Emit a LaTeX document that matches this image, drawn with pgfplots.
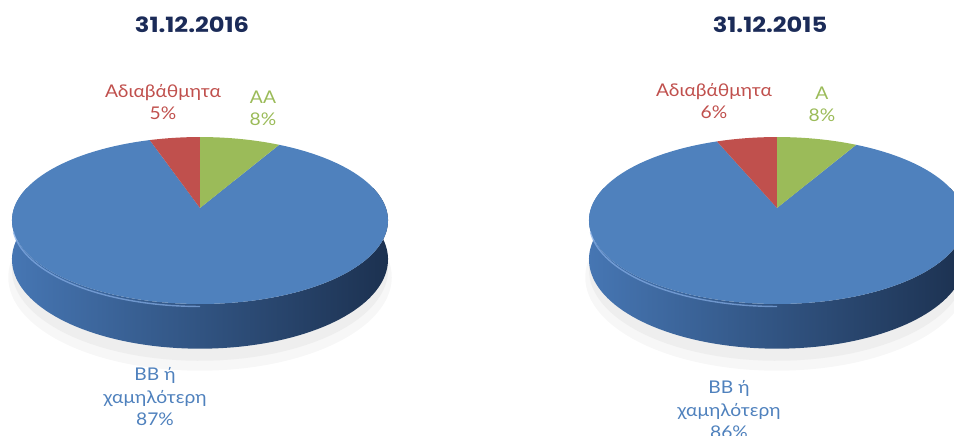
\documentclass[border=0pt]{standalone}
\usepackage{pgfplots}
\pgfplotsset{compat=1.18}
\usepackage{pgfplotstable}
\usepackage{fontspec}
\setmainfont{Lato}[FakeStretch=1.1]
\newfontfamily\titlefont{Poppins}[FakeStretch=1.15]
\definecolor{cblue}{HTML}{4F81BD}
\definecolor{cred}{HTML}{C0504D}
\definecolor{cgreen}{HTML}{9BBB59}
\definecolor{sideL}{HTML}{4676B3}
\definecolor{sideR}{HTML}{1C3150}
\definecolor{rim}{HTML}{86AEE6}
\definecolor{navy}{HTML}{1B2B58}
\definecolor{tblue}{HTML}{4F81BD}

\pgfplotstableread{
label pct
AA 8
BB 87
NR 5
}\dataA
\pgfplotstableread{
label pct
A 8
BB 86
NR 6
}\dataB

\begin{document}%
\begin{tikzpicture}
\pgfplotstablegetelem{0}{pct}\of\dataA \edef\gA{\pgfplotsretval}
\pgfplotstablegetelem{2}{pct}\of\dataA \edef\rA{\pgfplotsretval}
\pgfplotstablegetelem{0}{pct}\of\dataB \edef\gB{\pgfplotsretval}
\pgfplotstablegetelem{2}{pct}\of\dataB \edef\rB{\pgfplotsretval}
\pgfmathsetmacro{\gAs}{90-3.6*\gA}
\pgfmathsetmacro{\rAe}{90+3.6*\rA}
\pgfmathsetmacro{\bAe}{450-3.6*\gA}
\pgfmathsetmacro{\gBs}{90-3.6*\gB}
\pgfmathsetmacro{\rBe}{90+3.6*\rB}
\pgfmathsetmacro{\bBe}{450-3.6*\gB}
\useasboundingbox (0,0) rectangle (954pt,436pt);
\begin{axis}[at={(0,0)}, anchor=south west, scale only axis,
  width=954pt, height=436pt, xmin=0, xmax=954, ymin=0, ymax=436,
  hide axis, clip=true,
  declare function={
    PX(\c,\s,\t)=\c+\s*185.9*cos(\t)/(1+0.15*sin(\t));
    PY(\s,\t,\h)=228+(\s*81.6*sin(\t)-38*\h)/(1+0.15*sin(\t));
    Th(\u)=(\u<=1)*(165+210*\u)+(\u>1)*(375-210*(\u-1));
    Hh(\u)=(\u>1);
  }]
% ---------- left pie (31.12.2016)
\addplot[draw=none, fill=gray!6, domain=0:360, samples=120, variable=\t]
  ({PX(200,1.02,\t)},{PY(1.02,\t,1.45)});
\addplot[draw=none, fill=gray!13, domain=0:360, samples=120, variable=\t]
  ({PX(200,1.0,\t)},{PY(1.0,\t,1.27)});
\addplot[draw=none, left color=sideL, right color=sideR, domain=0:2, samples=201, variable=\u]
  ({PX(200,1,Th(\u))},{PY(1,Th(\u),Hh(\u))});
\addplot[draw=none, fill=cblue, domain=\rAe:\bAe, samples=120, variable=\t]
  ({PX(200,1,\t)},{PY(1,\t,0)}) -- (200,228) -- cycle;
\addplot[draw=none, fill=cred, domain=90:\rAe, samples=20, variable=\t]
  ({PX(200,1,\t)},{PY(1,\t,0)}) -- (200,228) -- cycle;
\addplot[draw=none, fill=cgreen, domain=\gAs:90, samples=20, variable=\t]
  ({PX(200,1,\t)},{PY(1,\t,0)}) -- (200,228) -- cycle;
\addplot[draw=rim, line width=1.4pt, opacity=0.7, domain=195:270, samples=50, variable=\t]
  ({PX(200,0.998,\t)},{PY(0.998,\t,0.06)});
% ---------- right pie (31.12.2015)
\addplot[draw=none, fill=gray!6, domain=0:360, samples=120, variable=\t]
  ({PX(777,1.02,\t)},{PY(1.02,\t,1.45)});
\addplot[draw=none, fill=gray!13, domain=0:360, samples=120, variable=\t]
  ({PX(777,1.0,\t)},{PY(1.0,\t,1.27)});
\addplot[draw=none, left color=sideL, right color=sideR, domain=0:2, samples=201, variable=\u]
  ({PX(777,1,Th(\u))},{PY(1,Th(\u),Hh(\u))});
\addplot[draw=none, fill=cblue, domain=\rBe:\bBe, samples=120, variable=\t]
  ({PX(777,1,\t)},{PY(1,\t,0)}) -- (777,228) -- cycle;
\addplot[draw=none, fill=cred, domain=90:\rBe, samples=20, variable=\t]
  ({PX(777,1,\t)},{PY(1,\t,0)}) -- (777,228) -- cycle;
\addplot[draw=none, fill=cgreen, domain=\gBs:90, samples=20, variable=\t]
  ({PX(777,1,\t)},{PY(1,\t,0)}) -- (777,228) -- cycle;
\addplot[draw=rim, line width=1.4pt, opacity=0.7, domain=195:270, samples=50, variable=\t]
  ({PX(777,0.998,\t)},{PY(0.998,\t,0.06)});
% ---------- titles
\node[text=navy, font=\titlefont\bfseries\fontsize{21}{24}\selectfont] at (192,411) {31.12.2016};
\node[text=navy, font=\titlefont\bfseries\fontsize{21}{24}\selectfont] at (770,411) {31.12.2015};
% ---------- labels left
\node[text=cred, align=center, font=\fontsize{17.5}{22}\selectfont] at (163,334) {Αδιαβάθμητα\\\rA\%};
\node[text=cgreen, align=center, font=\fontsize{17.5}{22}\selectfont] at (263,328) {AA\\\gA\%};
\node[text=tblue, align=center, font=\fontsize{17.5}{22.5}\selectfont] at (155,39) {BB ή\\χαμηλότερη\\87\%};
% ---------- labels right
\node[text=cred, align=center, font=\fontsize{17.5}{22}\selectfont] at (714,335) {Αδιαβάθμητα\\\rB\%};
\node[text=cgreen, align=center, font=\fontsize{17.5}{22}\selectfont] at (822,332) {A\\\gB\%};
\node[text=tblue, align=center, font=\fontsize{17.5}{22.5}\selectfont] at (729,26) {BB ή\\χαμηλότερη\\86\%};
\end{axis}
\end{tikzpicture}%
\end{document}
